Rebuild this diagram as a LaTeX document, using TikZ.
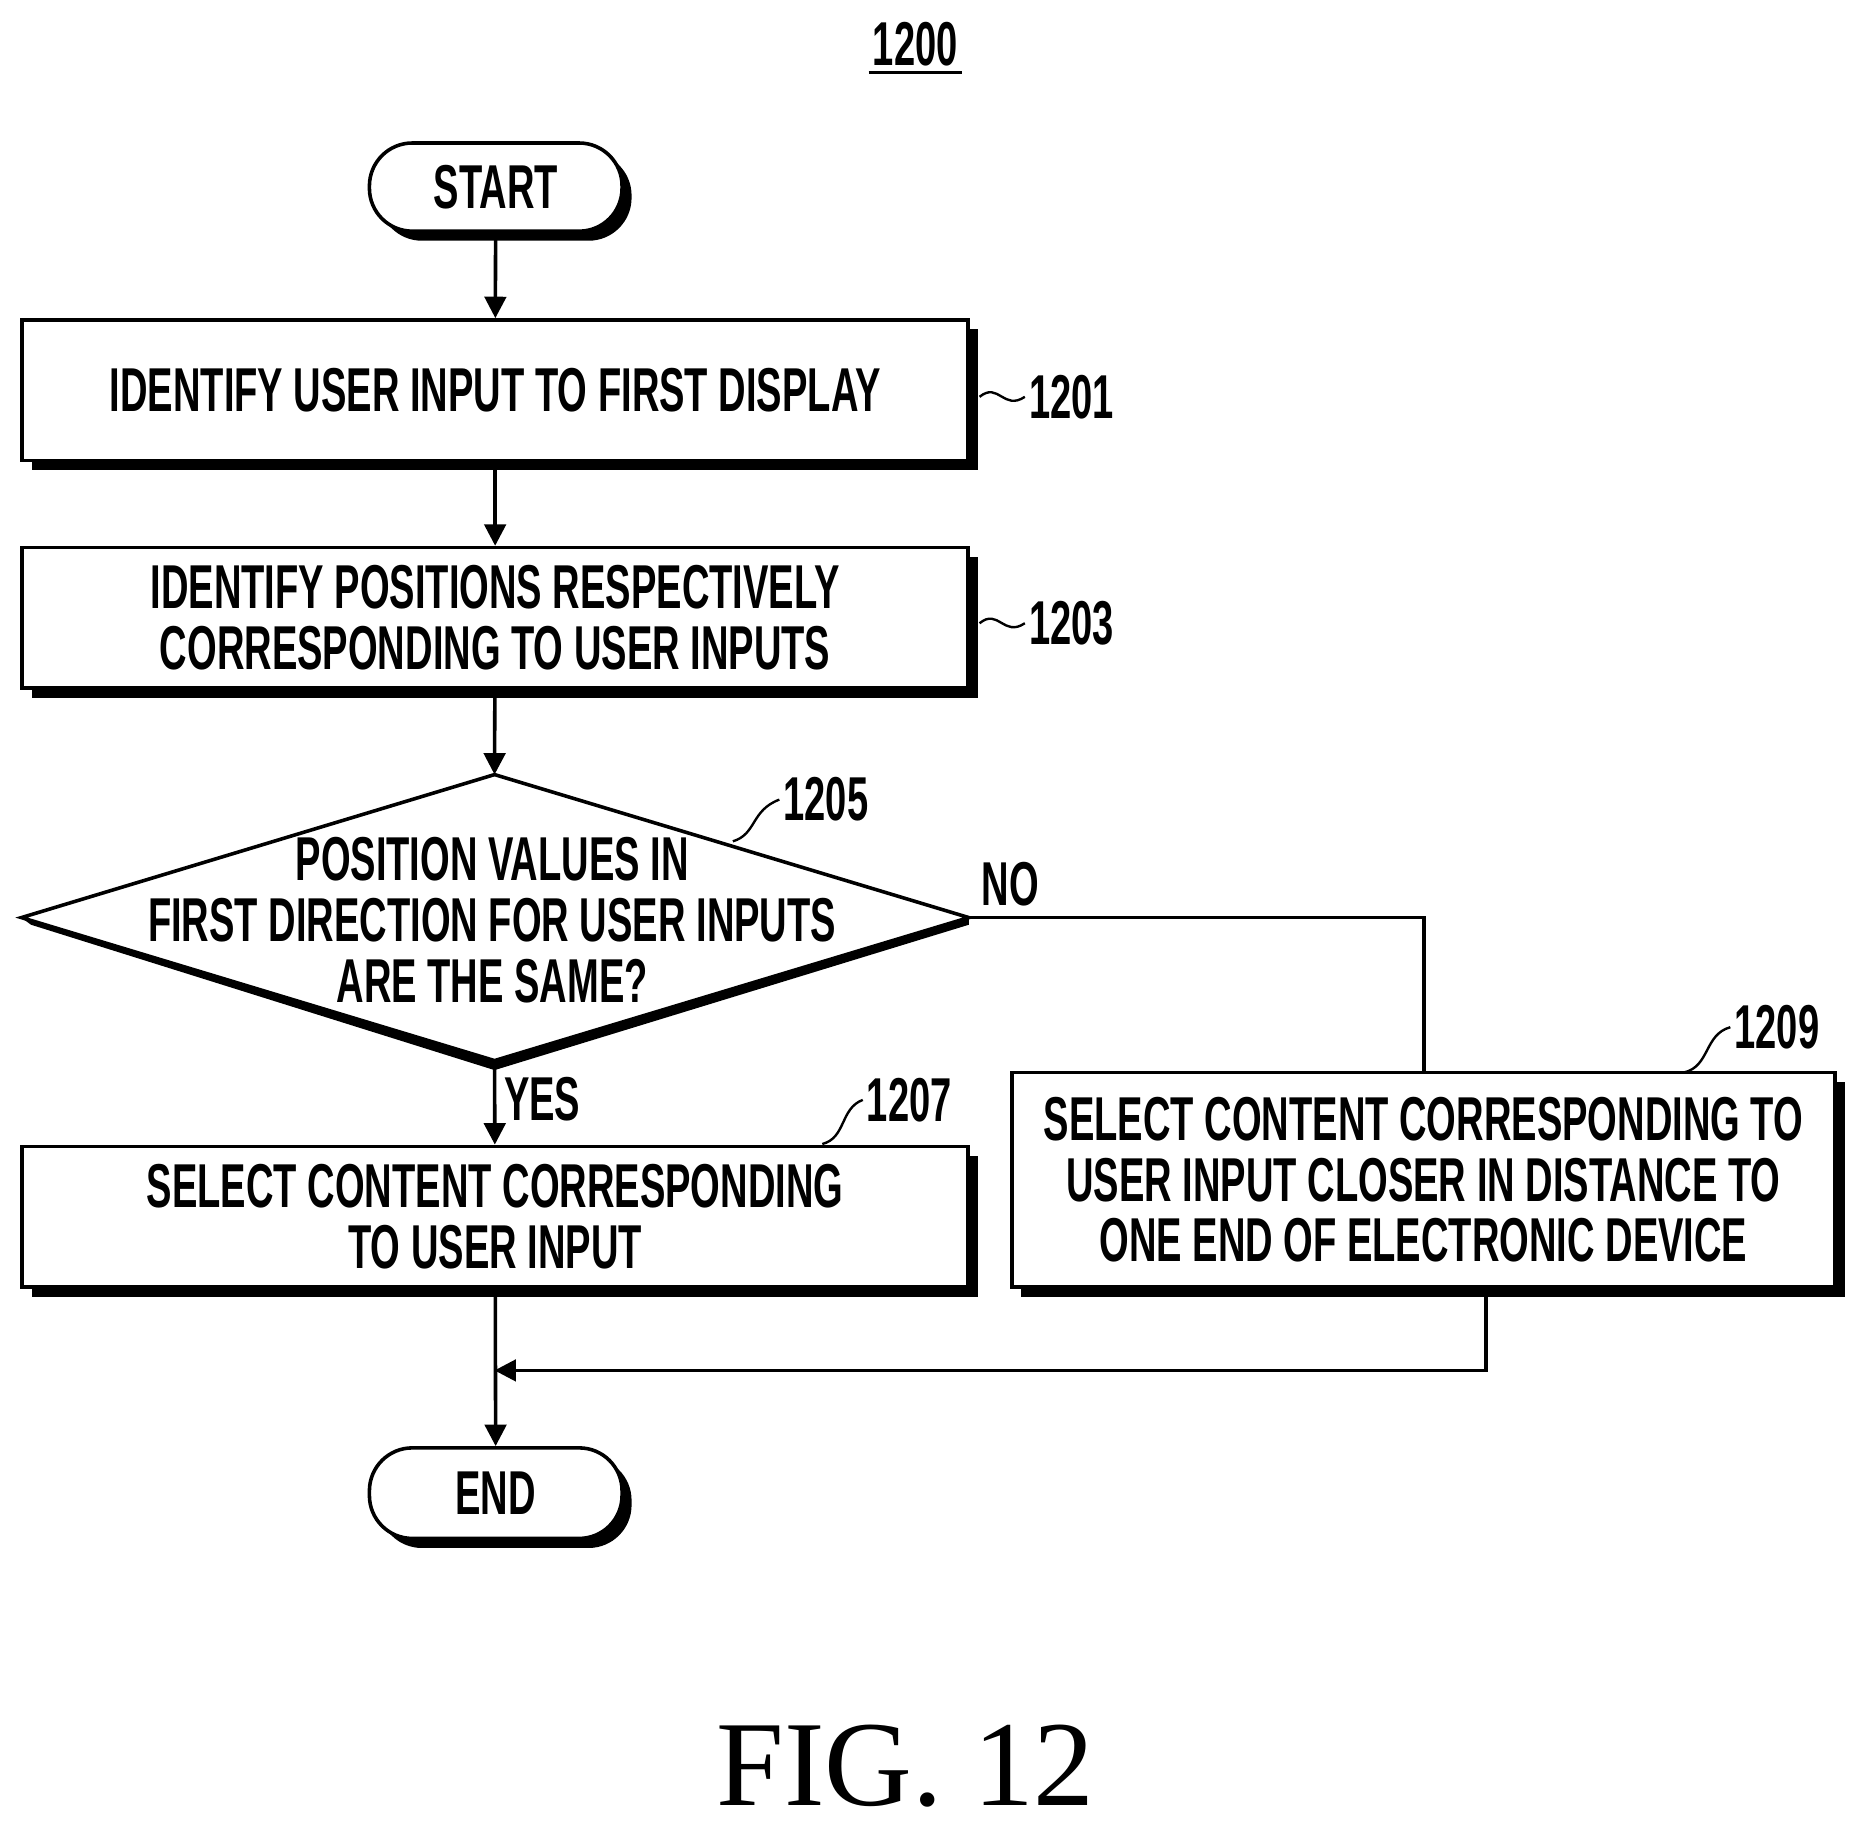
\documentclass[tikz,border=0pt]{standalone}
\usepackage{fontspec}
\usepackage{graphicx}
\setmainfont{Liberation Sans}
\newfontfamily\figfont{Liberation Serif}
\usetikzlibrary{shadows,arrows.meta,calc}
\newcommand\cz[1]{\scalebox{0.615}[1]{#1}}
\begin{document}
\begin{tikzpicture}[x=0.5pt,y=-0.5pt,line width=1.5pt,
  sh/.style={drop shadow={shadow xshift=4pt,shadow yshift=-4pt,fill=black,opacity=1}},
  box/.style={draw,fill=white,sh,rectangle,inner sep=0pt,align=center,font=\bfseries\fontsize{26}{25.5}\selectfont},
  term/.style={box,rounded corners=18pt},
  lbl/.style={font=\bfseries\fontsize{26}{26}\selectfont,inner sep=1pt},
  arr/.style={-{Triangle[length=9pt,width=9pt]}}]
\useasboundingbox (0,0) rectangle (1560,1531);
\node[lbl] (t) at (768,37) {\cz{1200}};
\draw[line width=1pt] ($(t.south west)+(0,2)$) -- ($(t.south east)+(0,2)$);
\node[term,minimum width=106pt,minimum height=37pt] (s) at (416,157) {\cz{START}};
\node[box,minimum width=397pt,minimum height=59pt] (b1) at (415.5,327.5) {\cz{IDENTIFY USER INPUT TO FIRST DISPLAY}};
\node[box,minimum width=397pt,minimum height=59pt] (b3) at (415.5,518.5) {\cz{IDENTIFY POSITIONS RESPECTIVELY}\\\cz{CORRESPONDING TO USER INPUTS}};
\coordinate (dl) at (18,770); \coordinate (dt) at (415,650);
\coordinate (dr) at (813,770); \coordinate (db) at (415,890);
\fill (26,776) -- (415,898) -- (813,776) -- (813,770) -- (415,890) -- (18,770) -- cycle;
\draw[fill=white] (dl) -- (dt) -- (dr) -- (db) -- cycle;
\node[align=center,font=\bfseries\fontsize{26}{25.5}\selectfont,inner sep=0pt] (d) at (413,772) {\cz{POSITION VALUES IN}\\\cz{FIRST DIRECTION FOR USER INPUTS}\\\cz{ARE THE SAME?}};
\node[box,minimum width=397pt,minimum height=59pt] (b7) at (415.5,1021) {\cz{SELECT CONTENT CORRESPONDING}\\\cz{TO USER INPUT}};
\node[box,minimum width=345.5pt,minimum height=90pt] (b9) at (1194.5,990) {\cz{SELECT CONTENT CORRESPONDING TO}\\\cz{USER INPUT CLOSER IN DISTANCE TO}\\\cz{ONE END OF ELECTRONIC DEVICE}};
\node[term,minimum width=106pt,minimum height=38pt] (e) at (416,1253) {\cz{END}};
% labels
\node[lbl,anchor=west] (l1) at (860,333) {\cz{1201}};
\draw[line width=1pt] (822,333) .. controls (838,320) and (842,345) .. (l1.west);
\node[lbl,anchor=west] (l3) at (860,523) {\cz{1203}};
\draw[line width=1pt] (822,523) .. controls (838,510) and (842,535) .. (l3.west);
\node[lbl,anchor=west] (l5) at (654,671) {\cz{1205}};
\draw[line width=1pt] (615,706) .. controls (635,700) and (630,680) .. (l5.west);
\node[lbl,anchor=west] (l7) at (724,923) {\cz{1207}};
\draw[line width=1pt] (690,960) .. controls (710,955) and (705,930) .. (l7.west);
\node[lbl,anchor=west] (l9) at (1452,862) {\cz{1209}};
\draw[line width=1pt] (1413,900) .. controls (1435,895) and (1430,868) .. (l9.west);
\node[lbl] (no) at (848,742) {\cz{NO}};
\node[lbl] (yes) at (455,922) {\cz{YES}};
% connectors
\draw[arr] (s) -- (b1);
\draw[arr] (b1) -- (b3);
\draw[arr] (b3) -- (dt);
\draw[arr] (db) -- (b7);
\draw (dr) -- (1195,770) -- (1195,900);
\coordinate (m) at (415,1150);
\draw[arr] (b7) -- (e);
\draw[arr] (1247,1084) -- (1247,1150) -- (m);
\node[font=\figfont\fontsize{51}{51}\selectfont] (fig) at (760,1482) {FIG. 12};
\end{tikzpicture}
\end{document}
